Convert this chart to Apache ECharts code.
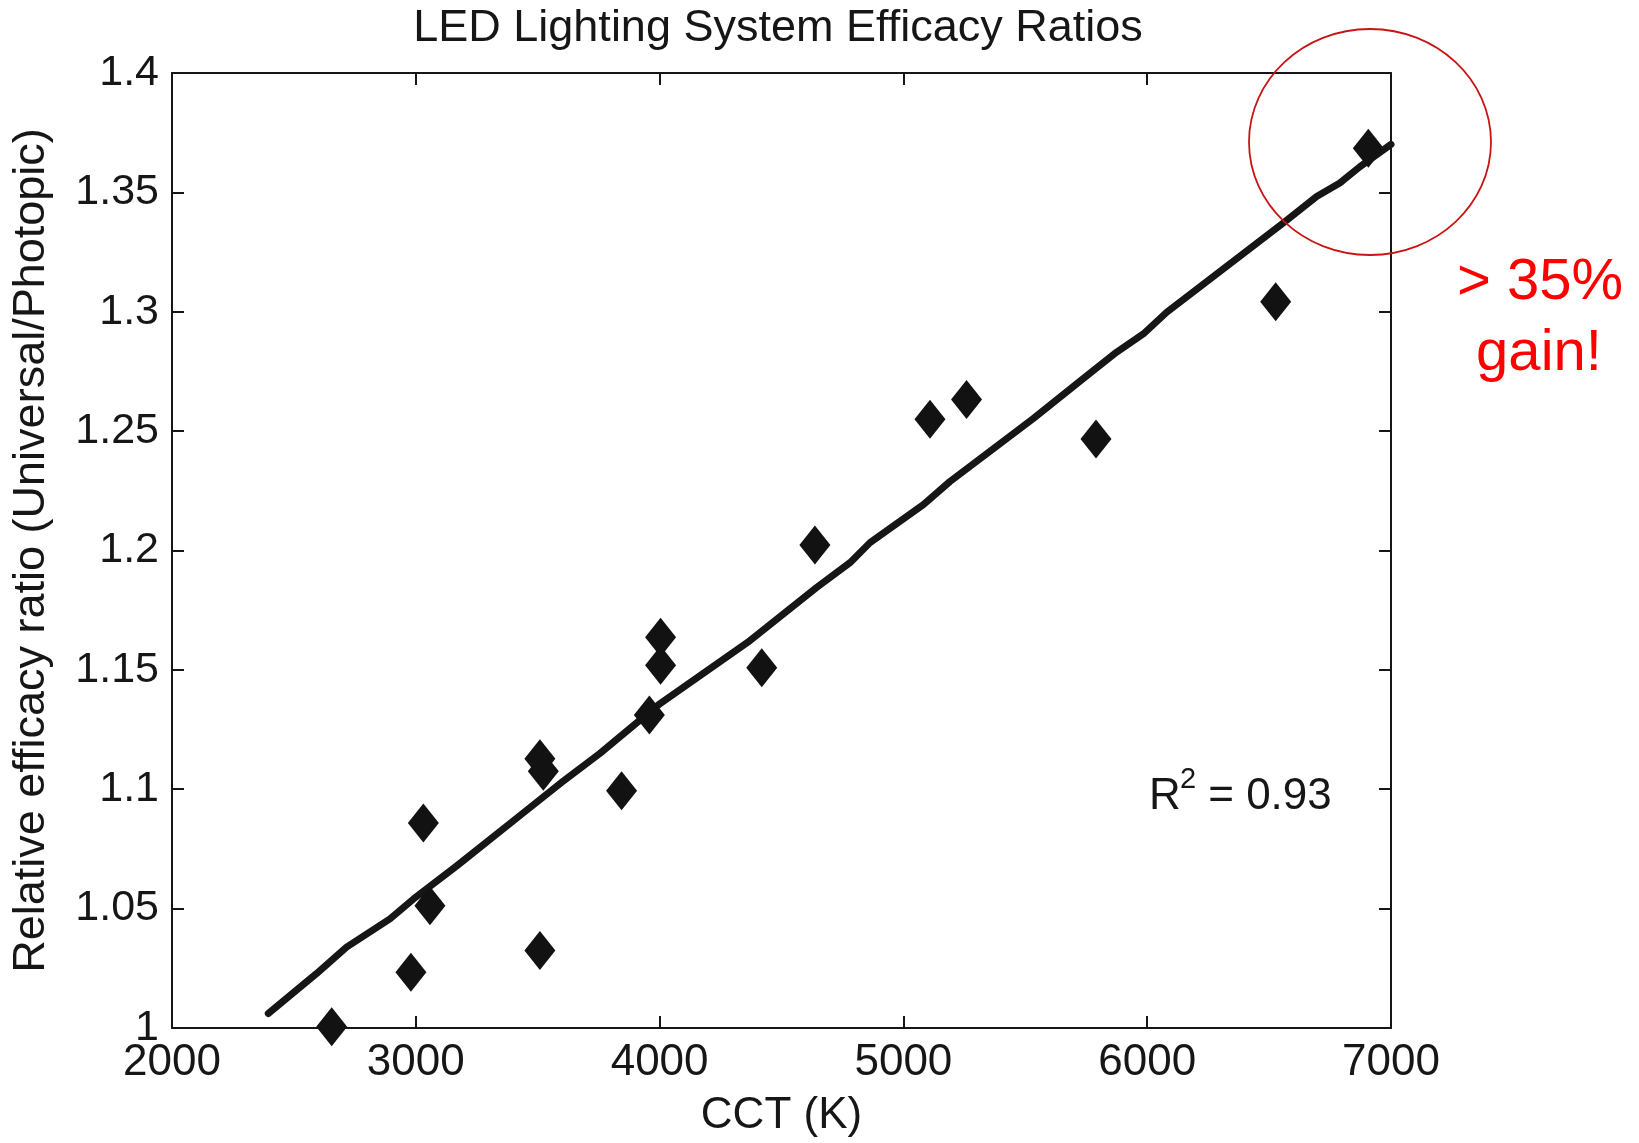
<!DOCTYPE html>
<html>
<head>
<meta charset="utf-8">
<title>LED Lighting System Efficacy Ratios</title>
<script src="https://cdn.jsdelivr.net/npm/echarts@6/dist/echarts.min.js"></script>
<style>
  html, body { margin: 0; padding: 0; background: #ffffff; }
  #chart { width: 1639px; height: 1143px; }
</style>
</head>
<body>
<div id="chart"></div>
<script>
// Measured luminaires: correlated colour temperature (K) and efficacy ratio
const cctValues = [2655, 2980, 3031, 3058, 3509, 3509, 3523, 3844, 3958, 4004, 4004,
                   4419, 4637, 5109, 5259, 5790, 6527, 6907];
const ratioValues = [1.0005, 1.0234, 1.0859, 1.0512, 1.0325, 1.1128, 1.1075, 1.0994, 1.1311,
                     1.1637, 1.1519, 1.1509, 1.2023, 1.2550, 1.2632, 1.2467, 1.3042, 1.3685];

// Fitted trend curve
const fitCct = [2395, 2593, 2716, 2894, 2990, 3168, 3441, 3600, 3756, 3920, 4002, 4371,
                4644, 4781, 4863, 5082, 5191, 5533, 5738, 5875, 5984, 6080, 6558, 6695,
                6790, 6873, 7000];
const fitRatio = [1.0061, 1.0228, 1.0339, 1.0457, 1.0540, 1.0679, 1.0901, 1.1030, 1.1151,
                  1.1290, 1.1359, 1.1623, 1.1845, 1.1949, 1.2033, 1.2192, 1.2289, 1.2553,
                  1.2720, 1.2831, 1.2907, 1.2998, 1.3372, 1.3483, 1.3539, 1.3608, 1.3701];

// Axis ticks
const xTicks = [2000, 3000, 4000, 5000, 6000, 7000];
const xTickLabels = ['2000', '3000', '4000', '5000', '6000', '7000'];
const yTicks = [1, 1.05, 1.1, 1.15, 1.2, 1.25, 1.3, 1.35, 1.4];
const yTickLabels = ['1', '1.05', '1.1', '1.15', '1.2', '1.25', '1.3', '1.35', '1.4'];

const titleText = 'LED Lighting System Efficacy Ratios';
const xName = 'CCT (K)';
const yName = 'Relative efficacy ratio (Universal/Photopic)';
const fitNote = ['R', '2', ' = 0.93'];
const gainNote = ['> 35%', 'gain!'];

const FONT = '"Liberation Sans", Arial, Helvetica, sans-serif';
const INK = '#161616';

const chart = echarts.init(document.getElementById('chart'), null, { renderer: 'canvas' });

const xStep = xTicks[1] - xTicks[0];
const yStep = +(yTicks[1] - yTicks[0]).toFixed(4);

function lookup(ticks, labels) {
  return function (v) {
    const i = ticks.findIndex(t => Math.abs(t - v) < 1e-6);
    return i >= 0 ? labels[i] : '';
  };
}

const axisLineStyle = { color: INK, width: 2 };
const tickStyle = { show: true, inside: true, length: 12, lineStyle: { color: INK, width: 2 } };

const option = {
  backgroundColor: '#ffffff',
  animation: false,
  grid: { left: 172, top: 73, width: 1219, height: 960, containLabel: false },
  xAxis: [
    {
      type: 'value', position: 'bottom',
      min: xTicks[0], max: xTicks[xTicks.length - 1], interval: xStep,
      axisLine: { show: true, onZero: false, lineStyle: axisLineStyle },
      axisTick: tickStyle,
      splitLine: { show: false },
      axisLabel: { show: true, fontFamily: FONT, fontSize: 44, color: INK, margin: 13,
                   formatter: lookup(xTicks, xTickLabels) },
      name: xName, nameLocation: 'middle', nameGap: 66,
      nameTextStyle: { fontFamily: FONT, fontSize: 44, color: INK }
    },
    {
      type: 'value', position: 'top',
      min: xTicks[0], max: xTicks[xTicks.length - 1], interval: xStep,
      axisLine: { show: true, onZero: false, lineStyle: axisLineStyle },
      axisTick: tickStyle,
      splitLine: { show: false },
      axisLabel: { show: false }
    }
  ],
  yAxis: [
    {
      type: 'value', position: 'left',
      min: yTicks[0], max: yTicks[yTicks.length - 1], interval: yStep,
      axisLine: { show: true, onZero: false, lineStyle: axisLineStyle },
      axisTick: tickStyle,
      splitLine: { show: false },
      axisLabel: { show: true, fontFamily: FONT, fontSize: 43, color: INK, margin: 13,
                   formatter: lookup(yTicks, yTickLabels) },
      name: yName, nameLocation: 'middle', nameGap: 118, nameRotate: 90,
      nameTextStyle: { fontFamily: FONT, fontSize: 45, color: INK }
    },
    {
      type: 'value', position: 'right',
      min: yTicks[0], max: yTicks[yTicks.length - 1], interval: yStep,
      axisLine: { show: true, onZero: false, lineStyle: axisLineStyle },
      axisTick: tickStyle,
      splitLine: { show: false },
      axisLabel: { show: false }
    }
  ],
  series: [
    {
      name: 'Fit',
      type: 'line',
      xAxisIndex: 0, yAxisIndex: 0,
      data: fitCct.map((c, i) => [c, fitRatio[i]]),
      showSymbol: false,
      symbol: 'none',
      smooth: false,
      lineStyle: { color: INK, width: 7, cap: 'round', join: 'round' },
      z: 2
    },
    {
      name: 'Measured',
      type: 'scatter',
      xAxisIndex: 0, yAxisIndex: 0,
      data: cctValues.map((c, i) => [c, ratioValues[i]]),
      symbol: 'diamond',
      symbolSize: [31, 39],
      itemStyle: { color: '#121212', opacity: 1 },
      z: 3
    }
  ],
  graphic: [
    {
      type: 'text', x: 778, y: 29, z: 10,
      style: { text: titleText, fontFamily: FONT, fontSize: 45, fill: INK, align: 'center', verticalAlign: 'middle' }
    },
    {
      type: 'text', x: 1149, y: 797, z: 10,
      style: { text: fitNote[0], fontFamily: FONT, fontSize: 44, fill: INK, align: 'left', verticalAlign: 'middle' }
    },
    {
      type: 'text', x: 1180, y: 780, z: 10,
      style: { text: fitNote[1], fontFamily: FONT, fontSize: 29, fill: INK, align: 'left', verticalAlign: 'middle' }
    },
    {
      type: 'text', x: 1196, y: 797, z: 10,
      style: { text: fitNote[2], fontFamily: FONT, fontSize: 44, fill: INK, align: 'left', verticalAlign: 'middle' }
    },
    {
      type: 'ellipse', z: 10,
      shape: { cx: 1370, cy: 142, rx: 121, ry: 113 },
      style: { fill: 'none', stroke: '#c81414', lineWidth: 1.8 }
    },
    {
      type: 'text', x: 1540, y: 283, z: 10,
      style: { text: gainNote[0], fontFamily: FONT, fontSize: 58, fill: '#ff0000', align: 'center', verticalAlign: 'middle' }
    },
    {
      type: 'text', x: 1539, y: 354, z: 10,
      style: { text: gainNote[1], fontFamily: FONT, fontSize: 58, fill: '#ff0000', align: 'center', verticalAlign: 'middle' }
    }
  ]
};

chart.setOption(option);
</script>
</body>
</html>
